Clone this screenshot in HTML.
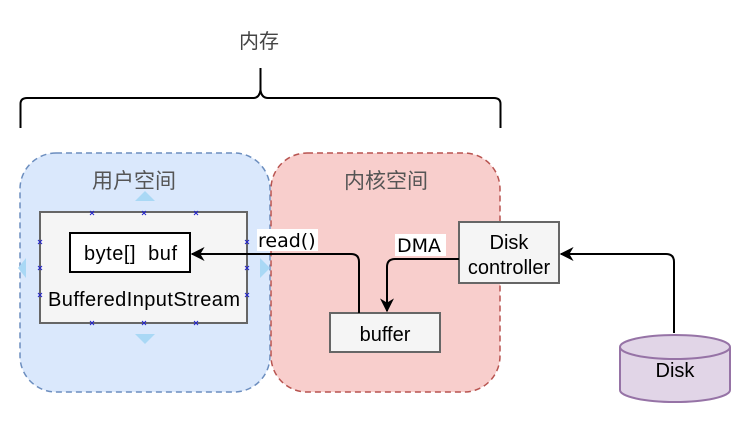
<!DOCTYPE html>
<html><head><meta charset="utf-8"><style>html,body{margin:0;padding:0;background:#fff}svg{display:block}</style></head>
<body>
<svg width="748" height="422" viewBox="0 0 748 422" xmlns="http://www.w3.org/2000/svg" style="font-family:'Liberation Sans','Noto Sans CJK SC',sans-serif">
<defs><marker id="a" viewBox="0 0 10 10" refX="9" refY="5" markerWidth="7" markerHeight="7" orient="auto"><path d="M0,0 L10,5 L0,10 L3,5 Z" fill="#000"/></marker></defs>
<text x="259" y="48" font-size="20" fill="#444" text-anchor="middle">内存</text>
<path d="M20.5,128 V104 Q20.5,98 27,98 H253 Q259.5,98 260.5,90 V68 M260.5,90 Q261.5,98 268,98 H494 Q500.5,98 500.5,104 V128" fill="none" stroke="#000" stroke-width="2"/>
<rect x="20" y="153" width="250" height="239" rx="36" fill="#dae8fc" stroke="#6c8ebf" stroke-width="1.5" stroke-dasharray="6,4"/>
<rect x="271" y="153" width="229" height="239" rx="36" fill="#f8cecc" stroke="#b85450" stroke-width="1.5" stroke-dasharray="6,4"/>
<text x="134" y="188" font-size="21" fill="#555" text-anchor="middle">用户空间</text>
<text x="386" y="188" font-size="21" fill="#555" text-anchor="middle">内核空间</text>
<g fill="#a9d8f5"><path d="M135,201 L145,191 L155,201Z"/><path d="M135,334 L145,344 L155,334Z"/><path d="M26,258 L18,268 L26,278Z"/><path d="M260,258 L270,268 L260,278Z"/></g>
<rect x="40" y="212" width="207" height="111" fill="#f5f5f5" stroke="#666" stroke-width="2"/>
<rect x="70" y="233" width="120" height="39" fill="#fff" stroke="#000" stroke-width="2"/>
<text x="84" y="260" font-size="20" textLength="93" xml:space="preserve">byte[]  buf</text>
<text x="48" y="306" font-size="20" textLength="192">BufferedInputStream</text>
<g stroke="#22c" stroke-width="1"><path d="M90,211l4,4m0,-4l-4,4M142,211l4,4m0,-4l-4,4M194,211l4,4m0,-4l-4,4M90,321l4,4m0,-4l-4,4M142,321l4,4m0,-4l-4,4M194,321l4,4m0,-4l-4,4M38,240l4,4m0,-4l-4,4M38,266l4,4m0,-4l-4,4M38,293l4,4m0,-4l-4,4M245,240l4,4m0,-4l-4,4M245,266l4,4m0,-4l-4,4M245,293l4,4m0,-4l-4,4"/></g>
<rect x="330" y="313" width="110" height="39" fill="#f5f5f5" stroke="#666" stroke-width="2"/>
<text x="385" y="341" font-size="20" text-anchor="middle">buffer</text>
<rect x="459" y="222" width="100" height="61" fill="#f5f5f5" stroke="#666" stroke-width="2"/>
<text x="509" y="249" font-size="20" text-anchor="middle">Disk</text>
<text x="509" y="274" font-size="20" text-anchor="middle">controller</text>
<path d="M620,347 V390 A55,12 0 0 0 730,390 V347" fill="#e1d5e7" stroke="#9673a6" stroke-width="2"/>
<ellipse cx="675" cy="347" rx="55" ry="12" fill="#e1d5e7" stroke="#9673a6" stroke-width="2"/>
<text x="675" y="377" font-size="20" text-anchor="middle">Disk</text>
<path d="M359,313 V262 Q359,254 351,254 H192" fill="none" stroke="#000" stroke-width="2" marker-end="url(#a)"/>
<path d="M459,259 H395 Q387,259 387,267 V311" fill="none" stroke="#000" stroke-width="2" marker-end="url(#a)"/>
<path d="M674,333 V262 Q674,254 666,254 H561" fill="none" stroke="#000" stroke-width="2" marker-end="url(#a)"/>
<rect x="257" y="229" width="61" height="22" fill="#fff"/>
<text x="258" y="247" font-size="19" style="font-family:'DejaVu Sans',sans-serif">read()</text>
<rect x="395" y="234" width="51" height="22" fill="#fff"/>
<text x="397" y="252" font-size="19" style="font-family:'DejaVu Sans',sans-serif">DMA</text>
</svg>
</body></html>
